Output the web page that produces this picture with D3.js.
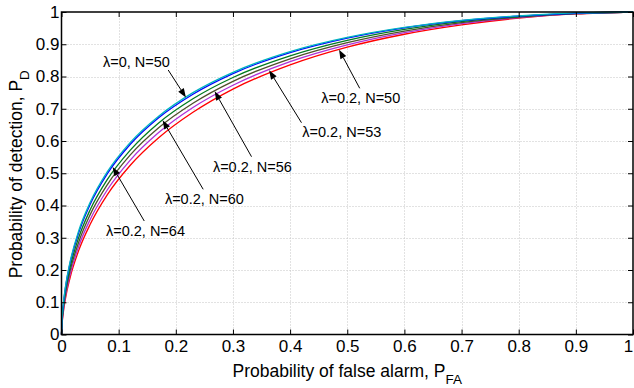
<!DOCTYPE html>
<html>
<head>
<meta charset="utf-8">
<script src="https://cdn.jsdelivr.net/npm/d3@7"></script>
<style>
  body { margin: 0; background: #fff; }
  text { font-family: "Liberation Sans", Arial, Helvetica, sans-serif; fill: #000; }
</style>
</head>
<body>
<svg id="chart" width="634" height="388"></svg>
<script>
// false alarm probabilities (x) shared by all curves
const pfa = [0, 0.001, 0.003, 0.007, 0.015, 0.03, 0.05, 0.08, 0.12, 0.17, 0.23, 0.3, 0.4, 0.5, 0.6, 0.7, 0.8, 0.9, 1];

// detection probabilities
const pdLam0N50   = [0, 0.047, 0.092, 0.149, 0.225, 0.321, 0.409, 0.504, 0.595, 0.677, 0.750, 0.813, 0.877, 0.921, 0.952, 0.974, 0.988, 0.997, 1];
const pdLam02N64  = [0, 0.046, 0.089, 0.146, 0.221, 0.315, 0.403, 0.498, 0.589, 0.672, 0.745, 0.809, 0.874, 0.919, 0.951, 0.973, 0.987, 0.996, 1];
const pdLam02N60  = [0, 0.042, 0.082, 0.136, 0.208, 0.300, 0.386, 0.480, 0.571, 0.656, 0.731, 0.797, 0.864, 0.912, 0.946, 0.970, 0.986, 0.996, 1];
const pdLam02N56  = [0, 0.038, 0.077, 0.127, 0.197, 0.286, 0.371, 0.464, 0.556, 0.641, 0.717, 0.785, 0.855, 0.905, 0.941, 0.967, 0.984, 0.995, 1];
const pdLam02N53  = [0, 0.035, 0.071, 0.119, 0.186, 0.273, 0.356, 0.448, 0.540, 0.626, 0.704, 0.773, 0.846, 0.898, 0.936, 0.964, 0.983, 0.995, 1];
const pdLam02N50  = [0, 0.032, 0.066, 0.112, 0.176, 0.260, 0.341, 0.433, 0.524, 0.610, 0.689, 0.761, 0.836, 0.891, 0.931, 0.960, 0.981, 0.994, 1];

const tickValues = [0, 0.1, 0.2, 0.3, 0.4, 0.5, 0.6, 0.7, 0.8, 0.9, 1];
const tickLabels = ["0", "0.1", "0.2", "0.3", "0.4", "0.5", "0.6", "0.7", "0.8", "0.9", "1"];

// drawn bottom to top
const series = [
  { key: "N50", values: pdLam02N50, color: "#ff0000" },
  { key: "N53", values: pdLam02N53, color: "#b030d8" },
  { key: "N56", values: pdLam02N56, color: "#4f4f2a" },
  { key: "N60", values: pdLam02N60, color: "#007a20" },
  { key: "N64", values: pdLam02N64, color: "#0000ff" },
  { key: "L0",  values: pdLam0N50,  color: "#00b4c0" }
];

// annotation labels: text spot, arrow tail, and where the tip meets which curve (data units)
const notes = [
  { label: "λ=0, N=50",   tx: 0.0726, ty: 0.831, ax: 0.1867, ay: 0.8202, tipX: 0.2177, curve: "L0" },
  { label: "λ=0.2, N=50", tx: 0.4545, ty: 0.7178, ax: 0.5218, ay: 0.7634, tipX: 0.4857, curve: "N50" },
  { label: "λ=0.2, N=53", tx: 0.4213, ty: 0.6124, ax: 0.4199, ay: 0.6567, tipX: 0.3633, curve: "N53" },
  { label: "λ=0.2, N=56", tx: 0.2649, ty: 0.5054, ax: 0.3325, ay: 0.5513, tipX: 0.268,  curve: "N56" },
  { label: "λ=0.2, N=60", tx: 0.1809, ty: 0.4047, ax: 0.2479, ay: 0.4502, tipX: 0.1769, curve: "N60" },
  { label: "λ=0.2, N=64", tx: 0.0778, ty: 0.3054, ax: 0.1448, ay: 0.3519, tipX: 0.0895, curve: "N64" }
];

const svg = d3.select("#chart");

const x = d3.scaleLinear().domain([0, 1]).range([61.5, 633]);
const y = d3.scaleLinear().domain([0, 1]).range([334.5, 12]);

// dotted grid
const grid = svg.append("g").attr("stroke", "#c4c4c4").attr("stroke-width", 1).attr("stroke-dasharray", "1,2");
grid.selectAll("line.gx")
  .data(tickValues.slice(1, -1))
  .join("line")
  .attr("class", "gx")
  .attr("x1", d => Math.round(x(d)) + 0.5).attr("x2", d => Math.round(x(d)) + 0.5)
  .attr("y1", y(0)).attr("y2", y(1));
grid.selectAll("line.gy")
  .data(tickValues.slice(1, -1))
  .join("line")
  .attr("class", "gy")
  .attr("y1", d => Math.round(y(d)) + 0.5).attr("y2", d => Math.round(y(d)) + 0.5)
  .attr("x1", x(0)).attr("x2", x(1));

// curves
const line = d3.line()
  .x((d, i) => x(pfa[i]))
  .y(d => y(d))
  .curve(d3.curveMonotoneX);

svg.append("g")
  .selectAll("path")
  .data(series)
  .join("path")
  .attr("fill", "none")
  .attr("stroke", d => d.color)
  .attr("stroke-width", 1.3)
  .attr("d", d => line(d.values));

// axes, ticks pointing inward on all sides
const fmt = d => tickLabels[tickValues.indexOf(d)];

const styleAxis = g => {
  g.select(".domain").remove();
  g.selectAll(".tick line").attr("stroke", "#000");
  g.selectAll("text").attr("font-size", 17).attr("font-family", null);
};

const xAxisG = svg.append("g")
  .attr("transform", `translate(0,${y(0)})`)
  .call(d3.axisBottom(x).tickValues(tickValues).tickFormat(fmt).tickSizeInner(-5).tickSizeOuter(0).tickPadding(5.5))
  .call(styleAxis);
// last label sits at the window edge, nudge it in so it stays whole
xAxisG.selectAll(".tick text").filter(d => d === 1).attr("dx", -5);

svg.append("g")
  .attr("transform", `translate(${x(0)},0)`)
  .call(d3.axisLeft(y).tickValues(tickValues).tickFormat(fmt).tickSizeInner(-5).tickSizeOuter(0).tickPadding(2))
  .call(styleAxis);

svg.append("g")
  .attr("transform", `translate(0,${y(1)})`)
  .call(d3.axisTop(x).tickValues(tickValues).tickFormat("").tickSizeInner(-5).tickSizeOuter(0))
  .call(styleAxis);

svg.append("g")
  .attr("transform", `translate(${x(1)},0)`)
  .call(d3.axisRight(y).tickValues(tickValues).tickFormat("").tickSizeInner(-5).tickSizeOuter(0))
  .call(styleAxis);

// box
svg.append("rect")
  .attr("x", x(0)).attr("y", y(1))
  .attr("width", x(1) - x(0)).attr("height", y(0) - y(1))
  .attr("fill", "none").attr("stroke", "#000").attr("stroke-width", 1.5);

// axis labels
const xl = svg.append("text")
  .attr("x", (x(0) + x(1)) / 2).attr("y", 376.5)
  .attr("text-anchor", "middle").attr("font-size", 17.5);
xl.append("tspan").text("Probability of false alarm, P");
xl.append("tspan").attr("dy", 7).attr("font-size", 13.5).text("FA");

const yl = svg.append("text")
  .attr("transform", `translate(22,${(y(0) + y(1)) / 2 + 1}) rotate(-90)`)
  .attr("text-anchor", "middle").attr("font-size", 17.5);
yl.append("tspan").text("Probability of detection, P");
yl.append("tspan").attr("dy", 7).attr("font-size", 13.5).text("D");

// annotations with arrows
const byKey = Object.fromEntries(series.map(s => [s.key, s.values]));
const bis = d3.bisector(d => d).right;
const curveAt = (vals, xv) => {
  const i = Math.min(Math.max(bis(pfa, xv), 1), pfa.length - 1);
  const t = (xv - pfa[i - 1]) / (pfa[i] - pfa[i - 1]);
  return vals[i - 1] + t * (vals[i] - vals[i - 1]);
};

const ann = svg.append("g");
notes.forEach(n => {
  const x0 = x(n.ax), y0 = y(n.ay);
  const x1 = x(n.tipX), y1 = y(curveAt(byKey[n.curve], n.tipX));
  const ang = Math.atan2(y1 - y0, x1 - x0);
  const L = 9, W = 3.3;
  const bx = x1 - L * Math.cos(ang), by = y1 - L * Math.sin(ang);
  ann.append("line")
    .attr("x1", x0).attr("y1", y0).attr("x2", bx).attr("y2", by)
    .attr("stroke", "#000").attr("stroke-width", 1);
  ann.append("path")
    .attr("d", `M${x1},${y1}L${bx + W * Math.sin(ang)},${by - W * Math.cos(ang)}L${bx - W * Math.sin(ang)},${by + W * Math.cos(ang)}Z`)
    .attr("fill", "#000");
  ann.append("text")
    .attr("x", x(n.tx)).attr("y", y(n.ty))
    .attr("font-size", 14.5)
    .text(n.label);
});
</script>
</body>
</html>
